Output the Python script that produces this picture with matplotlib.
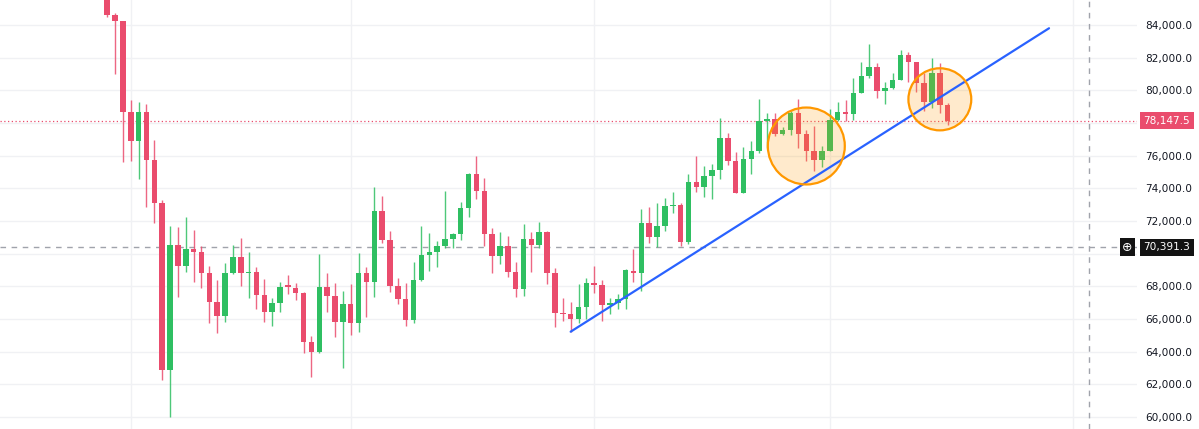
import numpy as np
import matplotlib.pyplot as plt
from matplotlib.patches import Ellipse
from matplotlib.transforms import blended_transform_factory

# daily candles (oldest first)
open_ = [86200, 84630, 84226, 78694, 76919, 78694, 75738, 73125, 62886, 70518,
         69251, 70291, 70089, 68804, 67029, 66209, 68804, 69783, 68820, 68865,
         67476, 66417, 66968, 68027, 67923, 67617, 64618, 64006, 67984, 67433,
         65805, 66925, 65744, 68804, 68290, 72635, 70842, 68045, 67212, 65946,
         68394, 69924, 70128, 70495, 70883, 71189, 72782, 74863, 73859, 71209,
         69883, 70474, 68865, 67825, 70883, 70515, 71311, 68804, 66397, 66315,
         65989, 66760, 68229, 68070, 66864, 66960, 67232, 68966, 68804, 71864,
         71044, 71717, 72923, 73006, 70701, 74410, 74104, 74759, 75124, 77066,
         75677, 73737, 75799, 76308, 78143, 78225, 77329, 77574, 78633, 77329,
         76288, 75735, 76288, 78185, 78694, 78553, 79820, 80897, 81411, 79979,
         80163, 80634, 82164, 81717, 80432, 79306, 81044, 79104]
high = [86500, 84716, 84226, 79410, 79306, 79165, 76962, 73290, 71700, 71656,
        72268, 71454, 70493, 69251, 68394, 69453, 70536, 70946, 70089, 69210,
        68437, 67274, 68290, 68700, 68229, 67680, 64966, 69966, 68845, 68192,
        67721, 68150, 70068, 69210, 74067, 73553, 71413, 68535, 68192, 69477,
        71717, 71250, 70781, 73841, 71290, 73186, 74961, 75983, 74618, 71595,
        71311, 71087, 69516, 71798, 71350, 71962, 71393, 69108, 67274, 67067,
        68130, 68535, 69271, 68394, 67311, 67519, 69047, 70291, 72721, 72843,
        73088, 73394, 73761, 73088, 74863, 75983, 75389, 75475, 78327, 77409,
        76246, 76553, 76920, 79453, 78633, 78593, 77776, 78755, 79453, 77600,
        77835, 76611, 78858, 79305, 79410, 80738, 81754, 82837, 81656, 80493,
        81081, 82470, 82330, 81717, 81044, 82000, 81656, 79206]
low = [84500, 81001, 75634, 75695, 74575, 72880, 71864, 62274, 59990, 67372,
       68902, 68290, 67885, 65744, 65132, 65846, 68743, 68027, 67274, 66600,
       65846, 65600, 66454, 67519, 67170, 63908, 62477, 63908, 66454, 64887,
       62990, 65028, 65233, 66148, 67372, 70638, 67680, 66925, 65579, 65781,
       68351, 68963, 69210, 70372, 70332, 70842, 72232, 73351, 70493, 68804,
       69355, 68559, 67335, 67433, 68902, 70372, 68130, 65536, 65885, 65233,
       65781, 65989, 67582, 65900, 66315, 66600, 66600, 68253, 67721, 70677,
       70432, 71413, 72513, 70493, 70576, 73800, 73494, 73333, 74557, 75432,
       73700, 73700, 74881, 76148, 76454, 77225, 77268, 77268, 76454, 75677,
       75062, 75327, 76288, 78140, 78143, 78186, 79820, 80738, 79514, 79165,
       80100, 80634, 80530, 79918, 78737, 78900, 78596, 77880]
close = [84630, 84226, 78694, 76919, 78694, 75738, 73125, 62886, 70518, 69251,
         70291, 70089, 68804, 67029, 66209, 68804, 69783, 68804, 68900, 67476,
         66417, 66968, 67984, 67985, 67617, 64618, 64006, 67984, 67433, 65805,
         66925, 65744, 68804, 68290, 72635, 70842, 68045, 67212, 65946, 68394,
         69924, 70128, 70495, 70883, 71189, 72782, 74863, 73859, 71209, 69883,
         70474, 68902, 67825, 70883, 70515, 71311, 68804, 66356, 66315, 65989,
         66760, 68229, 68070, 66864, 66960, 67232, 69006, 68804, 71864, 71044,
         71717, 72923, 73006, 70701, 74410, 74104, 74759, 75124, 77066, 75677,
         73737, 75799, 76308, 78143, 78225, 77329, 77574, 78633, 77329, 76288,
         75735, 76288, 78185, 78655, 78553, 79820, 80897, 81411, 79979, 80163,
         80634, 82164, 81717, 80432, 79306, 81044, 79104, 78147.5]

month_starts = [3, 31, 62, 92, 123]       # faint vertical grid
price_ticks = list(range(60000, 84001, 2000))
hidden_ticks = [70000, 78000]             # covered by the price tags
last_price = 78147.5
cross_price = 70391.3
cross_bar = 125
trend_x = [59, 119.9]
trend_y = [65224, 83800]
# highlighted zones: (bar, price, width in bars, height in price)
circles = [(89.0, 76592, 9.8, 4710), (106.0, 79450, 8.0, 3800)]

green = '#2fbf62'
red = '#ea4c6d'

fig = plt.figure(figsize=(11.99, 4.29), dpi=100)
ax = fig.add_axes([0, 0, 1137 / 1199, 1])

x = np.arange(len(close))
o = np.array(open_, dtype=float)
c = np.array(close, dtype=float)
colors = [green if cc >= oo else red for oo, cc in zip(o, c)]

ax.vlines(x, low, high, colors=colors, linewidth=1.0, alpha=0.85, zorder=3)
bottoms = np.minimum(o, c)
heights = np.maximum(np.abs(c - o), 70)
ax.bar(x, heights, bottom=bottoms, width=0.7, color=colors, linewidth=0, zorder=4)

# trend line
ax.plot(trend_x, trend_y, color='#2962ff', linewidth=1.6, zorder=6, solid_capstyle='round')

# circles
for cx, cy, w, h in circles:
    ax.add_patch(Ellipse((cx, cy), w, h, facecolor='#ff9800', alpha=0.2,
                         edgecolor='none', zorder=5))
    ax.add_patch(Ellipse((cx, cy), w, h, facecolor='none', edgecolor='#ff9800',
                         linewidth=1.6, zorder=7))

# price line and crosshair
ax.axhline(last_price, color=red, linestyle=(0, (1, 2)), linewidth=0.9, zorder=2)
ax.axhline(cross_price, color='#a0a3ab', linestyle=(0, (4, 4)), linewidth=1.0, zorder=2)
ax.axvline(cross_bar, color='#a0a3ab', linestyle=(0, (4, 4)), linewidth=1.0, zorder=2)

ax.set_xlim(-13.65, 131.1)
ax.set_ylim(59267, 85530)

ax.set_yticks(price_ticks)
ax.set_yticklabels(['' if v in hidden_ticks else f'{v:,.1f}' for v in price_ticks])
ax.yaxis.tick_right()
ax.tick_params(axis='y', length=0, pad=6, labelsize=7.6, labelcolor='#131722')
ax.set_xticks(month_starts)
ax.set_xticklabels([])
ax.tick_params(axis='x', length=0)
ax.grid(True, color='#f0f1f4', linewidth=1.0, zorder=0)
for s in ax.spines.values():
    s.set_visible(False)

tr = blended_transform_factory(ax.transAxes, ax.transData)
ax.text(1.0058, last_price, f'{last_price:,.1f}', transform=tr, ha='left', va='center',
        color='white', fontsize=7.6, clip_on=False, zorder=10,
        bbox=dict(boxstyle='square,pad=0.35', fc=red, ec='none'))
ax.text(1.0058, cross_price, f'{cross_price:,.1f}', transform=tr, ha='left', va='center',
        color='white', fontsize=7.6, clip_on=False, zorder=10,
        bbox=dict(boxstyle='square,pad=0.35', fc='#131313', ec='none'))
ax.text(0.9915, cross_price, '\u2295', transform=tr, ha='center', va='center',
        color='white', fontsize=9, clip_on=False, zorder=10,
        bbox=dict(boxstyle='square,pad=0.2', fc='#131313', ec='none'))

fig.savefig('out.png', dpi=100, facecolor='white')
